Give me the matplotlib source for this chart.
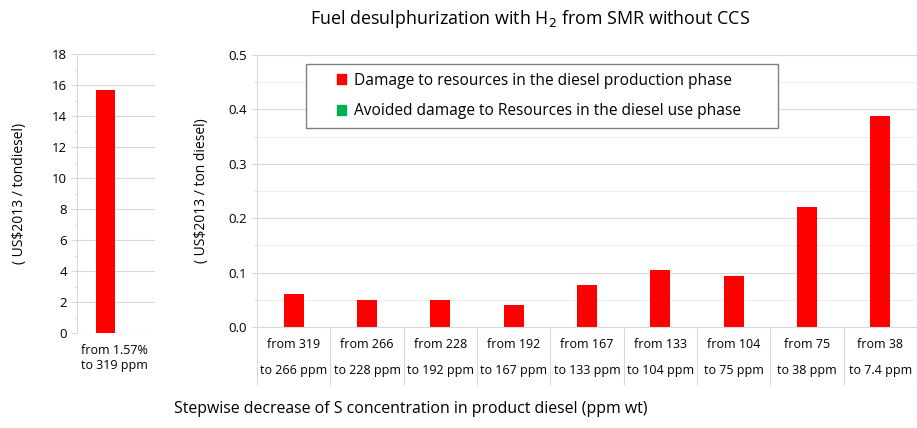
import matplotlib
matplotlib.use("Agg")
import matplotlib.pyplot as plt
from matplotlib.patches import Patch, Rectangle
from matplotlib.ticker import MultipleLocator, FixedLocator

plt.rcParams['font.family'] = ['Open Sans', 'DejaVu Sans']

left_cat = ["from 1.57%\nto 319 ppm"]
left_val = [15.7]

cats = ["from 319\nto 266 ppm", "from 266\nto 228 ppm", "from 228\nto 192 ppm",
        "from 192\nto 167 ppm", "from 167\nto 133 ppm", "from 133\nto 104 ppm",
        "from 104\nto 75 ppm", "from 75\nto 38 ppm", "from 38\nto 7.4 ppm"]
prod_vals = [0.061, 0.050, 0.050, 0.040, 0.077, 0.105, 0.093, 0.220, 0.388]

RED = "#FF0000"
GREEN = "#00B050"
GRID = "#D9D9D9"
W, H = 917, 428
fig = plt.figure(figsize=(W/100, H/100), dpi=100)

def ax_px(l, t, r, b):
    return fig.add_axes([l/W, 1-b/H, (r-l)/W, (b-t)/H])

# Left panel
axL = ax_px(77, 54, 155, 333)
axL.bar(range(len(left_val)), left_val, width=0.24, color=RED)
axL.set_xlim(-0.365, 0.635)
axL.set_ylim(0, 18)
axL.yaxis.set_major_locator(MultipleLocator(2))
axL.yaxis.set_minor_locator(MultipleLocator(1))
axL.grid(axis='y', which='major', color=GRID, lw=0.8)
axL.set_axisbelow(True)
for s in ['top', 'right', 'bottom']:
    axL.spines[s].set_visible(False)
axL.spines['left'].set_color(GRID)
axL.tick_params(axis='y', which='major', length=4, color=GRID, labelsize=9.5, pad=3)
axL.tick_params(axis='y', which='minor', length=2, color=GRID)
axL.set_xticks([0.12])
axL.set_xticklabels(left_cat, fontsize=9)
axL.tick_params(axis='x', length=0, pad=8)
axL.set_ylabel("( US\\$2013 / tondiesel)", fontsize=10, labelpad=18)

# Right panel
axR = ax_px(257, 55, 917, 327)
x = list(range(len(cats)))
axR.bar(x, prod_vals, width=0.27, color=RED)
axR.set_xlim(-0.5, len(cats)-0.5)
axR.set_ylim(0, 0.5)
axR.yaxis.set_major_locator(MultipleLocator(0.1))
axR.yaxis.set_minor_locator(MultipleLocator(0.05))
axR.yaxis.set_major_formatter(matplotlib.ticker.FormatStrFormatter('%.1f'))
axR.grid(axis='y', which='major', color=GRID, lw=0.8)
axR.grid(axis='y', which='minor', color="#EEEEEE", lw=0.8)
axR.set_axisbelow(True)
for s in ['top', 'right']:
    axR.spines[s].set_visible(False)
axR.spines['left'].set_color(GRID)
axR.spines['bottom'].set_color(GRID)
axR.tick_params(axis='y', which='major', length=4, color=GRID, labelsize=9.5, pad=3)
axR.tick_params(axis='y', which='minor', length=2, color=GRID)
axR.set_xticks(x)
axR.set_xticklabels(cats, fontsize=9, linespacing=2.3)
axR.tick_params(axis='x', which='major', length=0, pad=8)
axR.xaxis.set_minor_locator(FixedLocator([i + 0.5 for i in range(-1, len(cats))]))
axR.tick_params(axis='x', which='minor', length=42, color=GRID, width=0.8)
axR.set_ylabel("( US\\$2013 / ton diesel)", fontsize=10, labelpad=14)

# Legend box (frame drawn separately to match the wide padding)
def ax_coords(px, py):
    return ((px-257)/660, (327-py)/272)

bx0, by0 = ax_coords(306, 128)
bx1, by1 = ax_coords(778, 64)
axR.add_patch(Rectangle((bx0, by0), bx1-bx0, by1-by0, transform=axR.transAxes,
                        facecolor='white', edgecolor='#808080', lw=1.0, zorder=5))

handles = [Patch(color=RED), Patch(color=GREEN)]
labels = ["Damage to resources in the diesel production phase",
          "Avoided damage to Resources in the diesel use phase"]
lx, ly = ax_coords(337, 96)
leg = axR.legend(handles, labels, loc='center left', bbox_to_anchor=(lx, ly),
                 fontsize=11.2, frameon=False,
                 handlelength=0.6, handleheight=0.6, handletextpad=0.5, labelspacing=0.95,
                 borderpad=0.0, borderaxespad=0)
leg.set_zorder(6)

fig.text(530/W, 1-19/H, "Fuel desulphurization with H$_2$ from SMR without CCS",
         ha='center', va='center', fontsize=12.9)
fig.text(174/W, 1-409/H, "Stepwise decrease of S concentration in product diesel (ppm wt)",
         ha='left', va='center', fontsize=11.4)

fig.savefig("out.png", dpi=100)
